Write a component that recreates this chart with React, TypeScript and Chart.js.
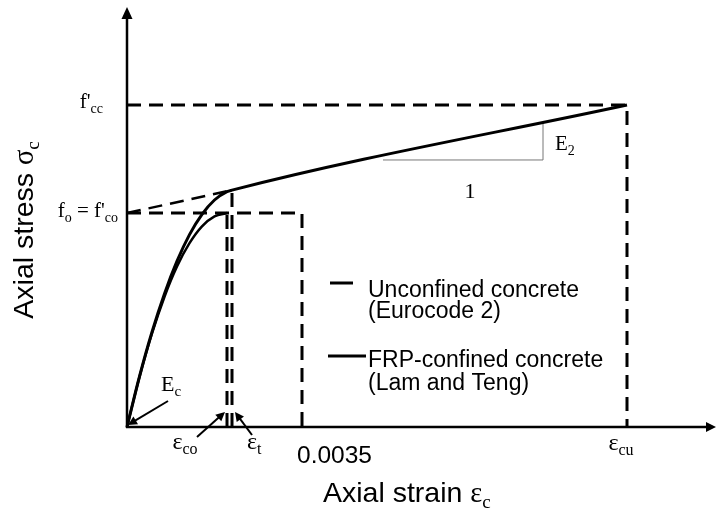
import React, { useEffect, useRef } from "react";
import { Chart, registerables } from "chart.js";

Chart.register(...registerables);

// Strain values (axial strain)
const strainUnconfined = [0, 0.00025, 0.0005, 0.00075, 0.001, 0.00125, 0.0015, 0.00175, 0.002];
const stressUnconfined = [0, 0.234, 0.4375, 0.609, 0.75, 0.859, 0.9375, 0.984, 1.0];

const strainConfined = [0, 0.00025, 0.0005, 0.00075, 0.001, 0.00125, 0.0015, 0.00175, 0.002, 0.0021, 0.01];
const stressConfined = [0, 0.236, 0.444, 0.623, 0.775, 0.899, 0.994, 1.061, 1.1, 1.107, 1.505];

const keyStrains = [0.002, 0.0021, 0.0035, 0.01]; // eps_co, eps_t, 0.0035, eps_cu
const keyStresses = [1.0, 1.107, 1.505]; // f_co, f_t, f'cc
const slopeTriangleX = [0.00512, 0.00832];
const slopeTriangleY = [1.248, 1.42];
const axisMax = [0.0117, 1.949]; // x max, y max

const [EPS_CO, EPS_T, EPS_U, EPS_CU] = keyStrains;
const [F_CO, F_T, F_CC] = keyStresses;

const SERIF = "'Liberation Serif', 'Times New Roman', serif";
const SANS = "'Liberation Sans', Arial, sans-serif";

type Seg = { t: string; sub?: boolean; fam?: string };

function drawSegs(
  ctx: CanvasRenderingContext2D,
  segs: Seg[],
  x: number,
  y: number,
  size: number,
  fam: string,
  align: "left" | "right" | "center" = "left"
) {
  const subSize = Math.round(size * 0.68);
  const widths = segs.map((s) => {
    ctx.font = `${s.sub ? subSize : size}px ${s.fam || fam}`;
    return ctx.measureText(s.t).width;
  });
  const total = widths.reduce((a, b) => a + b, 0);
  let cx = align === "left" ? x : align === "right" ? x - total : x - total / 2;
  ctx.textAlign = "left";
  ctx.textBaseline = "alphabetic";
  segs.forEach((s, i) => {
    ctx.font = `${s.sub ? subSize : size}px ${s.fam || fam}`;
    ctx.fillText(s.t, cx, s.sub ? y + size * 0.22 : y);
    cx += widths[i];
  });
}

function arrow(ctx: CanvasRenderingContext2D, x1: number, y1: number, x2: number, y2: number, len = 9, wid = 4.5) {
  const ang = Math.atan2(y2 - y1, x2 - x1);
  ctx.beginPath();
  ctx.moveTo(x1, y1);
  ctx.lineTo(x2 - Math.cos(ang) * len * 0.6, y2 - Math.sin(ang) * len * 0.6);
  ctx.stroke();
  ctx.beginPath();
  ctx.moveTo(x2, y2);
  ctx.lineTo(x2 - Math.cos(ang) * len - Math.sin(ang) * wid, y2 - Math.sin(ang) * len + Math.cos(ang) * wid);
  ctx.lineTo(x2 - Math.cos(ang) * len + Math.sin(ang) * wid, y2 - Math.sin(ang) * len - Math.cos(ang) * wid);
  ctx.closePath();
  ctx.fill();
}

const annotations = {
  id: "annotations",
  afterDatasetsDraw(chart: any) {
    const ctx: CanvasRenderingContext2D = chart.ctx;
    const xs = chart.scales.x;
    const ys = chart.scales.y;
    const X = (v: number) => xs.getPixelForValue(v);
    const Y = (v: number) => ys.getPixelForValue(v);
    ctx.save();
    ctx.fillStyle = "#000";
    ctx.strokeStyle = "#000";
    ctx.setLineDash([]);

    // axes
    const x0 = X(0), y0 = Y(0);
    const xEnd = X(axisMax[0]), yEnd = Y(axisMax[1]);
    ctx.lineWidth = 2.5;
    ctx.beginPath();
    ctx.moveTo(x0, y0 + 1);
    ctx.lineTo(x0, yEnd + 4);
    ctx.stroke();
    ctx.beginPath();
    ctx.moveTo(x0 - 1, y0);
    ctx.lineTo(xEnd - 2, y0);
    ctx.stroke();
    // arrowheads
    ctx.beginPath();
    ctx.moveTo(x0, yEnd - 3);
    ctx.lineTo(x0 - 5.5, yEnd + 9);
    ctx.lineTo(x0 + 5.5, yEnd + 9);
    ctx.closePath();
    ctx.fill();
    ctx.beginPath();
    ctx.moveTo(xEnd + 4, y0);
    ctx.lineTo(xEnd - 6, y0 - 5);
    ctx.lineTo(xEnd - 6, y0 + 5);
    ctx.closePath();
    ctx.fill();

    // small arrows
    ctx.lineWidth = 2;
    arrow(ctx, x0 + 41, y0 - 26, x0 + 1, y0 - 2);
    arrow(ctx, X(EPS_CO) - 30, y0 + 10, X(EPS_CO) - 2, y0 - 15);
    arrow(ctx, X(EPS_T) + 20, y0 + 8, X(EPS_T) + 3, y0 - 15);

    // serif labels
    drawSegs(ctx, [{ t: "f'" }, { t: "cc", sub: true }], x0 - 24, Y(F_CC) + 3, 21, SERIF, "right");
    drawSegs(
      ctx,
      [{ t: "f" }, { t: "o", sub: true }, { t: " = f'" }, { t: "co", sub: true }],
      x0 - 9,
      Y(F_CO) + 4,
      21,
      SERIF,
      "right"
    );
    drawSegs(ctx, [{ t: "E" }, { t: "c", sub: true }], x0 + 34, y0 - 36, 22, SERIF, "left");
    drawSegs(ctx, [{ t: "ε" }, { t: "co", sub: true }], X(EPS_CO) - 42, y0 + 22, 24, SERIF, "center");
    drawSegs(ctx, [{ t: "ε" }, { t: "t", sub: true }], X(EPS_T) + 15, y0 + 22, 24, SERIF, "left");
    drawSegs(ctx, [{ t: "ε" }, { t: "cu", sub: true }], X(EPS_CU) - 6, y0 + 23, 24, SERIF, "center");
    drawSegs(ctx, [{ t: "E" }, { t: "2", sub: true }], X(slopeTriangleX[1]) + 12, Y(slopeTriangleY[1]) + 27, 21, SERIF, "left");
    drawSegs(ctx, [{ t: "1" }], (X(slopeTriangleX[0]) + X(slopeTriangleX[1])) / 2 + 7, Y(slopeTriangleY[0]) + 38, 22, SERIF, "center");

    // sans labels
    ctx.fillStyle = "#000";
    drawSegs(ctx, [{ t: "0.0035" }], X(EPS_U) - 5, y0 + 36, 24.5, SANS, "left");
    drawSegs(
      ctx,
      [{ t: "Axial strain " }, { t: "ε", fam: SERIF }, { t: "c", sub: true, fam: SERIF }],
      323,
      502,
      28.5,
      SANS,
      "left"
    );
    ctx.save();
    ctx.translate(33, 230);
    ctx.rotate(-Math.PI / 2);
    drawSegs(
      ctx,
      [{ t: "Axial stress " }, { t: "σ", fam: SERIF }, { t: "c", sub: true, fam: SERIF }],
      0,
      0,
      28.5,
      SANS,
      "center"
    );
    ctx.restore();

    // legend
    ctx.lineWidth = 3;
    ctx.beginPath();
    ctx.moveTo(330, 283);
    ctx.lineTo(353, 283);
    ctx.stroke();
    ctx.beginPath();
    ctx.moveTo(328, 356);
    ctx.lineTo(366, 356);
    ctx.stroke();
    drawSegs(ctx, [{ t: "Unconfined concrete" }], 368, 297, 23, SANS, "left");
    drawSegs(ctx, [{ t: "(Eurocode 2)" }], 368, 318, 23, SANS, "left");
    drawSegs(ctx, [{ t: "FRP-confined concrete" }], 368, 367, 23, SANS, "left");
    drawSegs(ctx, [{ t: "(Lam and Teng)" }], 368, 390, 23, SANS, "left");

    ctx.restore();
  },
};

const DASH = [14, 8];

export default function App() {
  const ref = useRef<HTMLCanvasElement | null>(null);
  useEffect(() => {
    if (!ref.current) return;
    const pts = (xs: number[], ys: number[]) => xs.map((x, i) => ({ x, y: ys[i] }));
    const base = { showLine: true, pointRadius: 0, borderColor: "#000", fill: false, clip: false as any };
    const chart = new Chart(ref.current, {
      type: "scatter",
      data: {
        datasets: [
          { ...base, label: "Unconfined", data: pts(strainUnconfined, stressUnconfined), borderWidth: 2.5, cubicInterpolationMode: "monotone" } as any,
          { ...base, label: "Confined", data: pts(strainConfined, stressConfined), borderWidth: 3, cubicInterpolationMode: "monotone" } as any,
          { ...base, label: "plateau", data: pts([0, EPS_U, EPS_U], [F_CO, F_CO, 0]), borderWidth: 3, borderDash: DASH } as any,
          { ...base, label: "E2 ext", data: pts([0, EPS_T], [F_CO, F_T]), borderWidth: 2.5, borderDash: DASH } as any,
          { ...base, label: "fcc", data: pts([0, EPS_CU, EPS_CU], [F_CC, F_CC, 0]), borderWidth: 3, borderDash: DASH } as any,
          { ...base, label: "eco", data: pts([EPS_CO, EPS_CO], [0, F_CO]), borderWidth: 3, borderDash: DASH } as any,
          { ...base, label: "et", data: pts([EPS_T, EPS_T], [0, F_T]), borderWidth: 3, borderDash: DASH } as any,
          {
            ...base,
            label: "slope",
            data: pts([slopeTriangleX[0], slopeTriangleX[1], slopeTriangleX[1]], [slopeTriangleY[0], slopeTriangleY[0], slopeTriangleY[1]]),
            borderWidth: 1,
            borderColor: "#777",
          } as any,
        ],
      },
      options: {
        animation: false,
        responsive: false,
        maintainAspectRatio: false,
        layout: { padding: { left: 127, right: 4, top: 10, bottom: 83 } },
        scales: {
          x: { type: "linear", min: 0, max: axisMax[0], display: false },
          y: { type: "linear", min: 0, max: axisMax[1], display: false },
        },
        plugins: { legend: { display: false }, tooltip: { enabled: false } },
        events: [],
      },
      plugins: [annotations],
    });
    return () => chart.destroy();
  }, []);
  return (
    <div style={{ position: "absolute", left: 0, top: 0, width: 716, height: 510, background: "#fff" }}>
      <canvas ref={ref} width={716} height={510} style={{ display: "block" }} />
    </div>
  );
}
